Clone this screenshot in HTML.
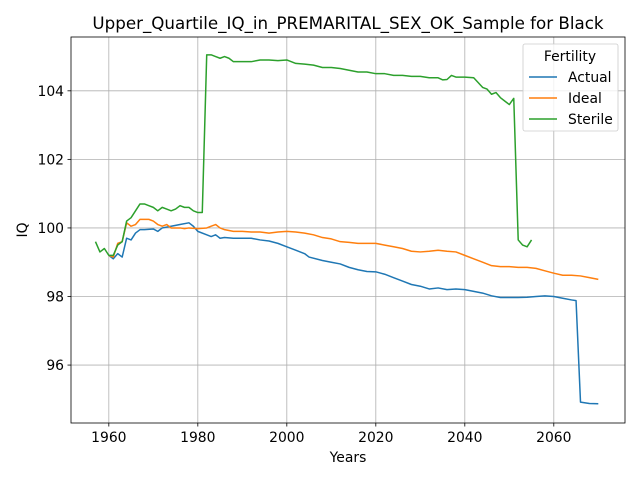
<!DOCTYPE html>
<html><head><meta charset="utf-8"><style>
body{margin:0;background:#fff;font-family:"Liberation Sans","DejaVu Sans",sans-serif}
</style></head><body>
<svg id="chart" width="640" height="480" xmlns="http://www.w3.org/2000/svg" font-family="DejaVu Sans, Liberation Sans, sans-serif"></svg>
<script>
const xTicks=[1960,1980,2000,2020,2040,2060];
const yTicks=[96,98,100,102,104];
const actualYears=[1960,1961,1962,1963,1964,1965,1966,1967,1968,1970,1971,1972,1974,1976,1978,1979,1980,1982,1983,1984,1985,1986,1988,1990,1992,1994,1996,1998,2000,2002,2004,2005,2008,2010,2012,2014,2016,2018,2020,2022,2024,2026,2028,2030,2032,2034,2036,2038,2040,2042,2044,2046,2048,2050,2052,2054,2056,2058,2060,2062,2064,2065,2066,2068,2070];
const actualValues=[99.2,99.1,99.25,99.15,99.7,99.65,99.85,99.95,99.95,99.97,99.9,100.0,100.05,100.1,100.15,100.05,99.9,99.8,99.75,99.8,99.7,99.72,99.7,99.7,99.7,99.65,99.62,99.55,99.45,99.35,99.25,99.15,99.05,99.0,98.95,98.85,98.78,98.73,98.72,98.65,98.55,98.45,98.35,98.3,98.22,98.25,98.2,98.22,98.2,98.15,98.1,98.02,97.97,97.97,97.97,97.98,98.0,98.02,98.0,97.95,97.9,97.88,94.92,94.88,94.87];
const idealYears=[1960,1961,1962,1963,1964,1965,1966,1967,1969,1970,1971,1972,1973,1974,1976,1977,1978,1980,1982,1983,1984,1985,1986,1988,1990,1992,1994,1996,1998,2000,2002,2004,2006,2008,2010,2012,2014,2016,2018,2020,2022,2024,2026,2028,2030,2032,2034,2036,2038,2040,2042,2044,2046,2048,2050,2052,2054,2056,2058,2060,2062,2064,2066,2068,2070];
const idealValues=[99.2,99.15,99.55,99.6,100.15,100.05,100.1,100.25,100.25,100.2,100.1,100.05,100.1,100.0,100.0,99.98,100.0,99.98,100.0,100.05,100.1,100.0,99.95,99.9,99.9,99.88,99.88,99.85,99.88,99.9,99.88,99.85,99.8,99.72,99.68,99.6,99.58,99.55,99.55,99.55,99.5,99.45,99.4,99.32,99.3,99.32,99.35,99.32,99.3,99.2,99.1,99.0,98.9,98.87,98.87,98.85,98.85,98.82,98.75,98.68,98.62,98.62,98.6,98.55,98.5];
const sterileYears=[1957,1958,1959,1960,1961,1962,1963,1964,1965,1966,1967,1968,1969,1970,1971,1972,1973,1974,1975,1976,1977,1978,1979,1980,1981,1982,1983,1984,1985,1986,1987,1988,1990,1992,1994,1996,1998,2000,2002,2004,2006,2008,2010,2012,2014,2016,2018,2020,2022,2024,2026,2028,2030,2032,2034,2035,2036,2037,2038,2040,2042,2044,2045,2046,2047,2048,2049,2050,2051,2052,2053,2054,2055];
const sterileValues=[99.6,99.3,99.4,99.2,99.2,99.5,99.6,100.2,100.3,100.5,100.7,100.7,100.65,100.6,100.5,100.6,100.55,100.5,100.55,100.65,100.6,100.6,100.5,100.45,100.45,105.05,105.05,105.0,104.95,105.0,104.95,104.85,104.85,104.85,104.9,104.9,104.88,104.9,104.8,104.78,104.75,104.68,104.68,104.65,104.6,104.55,104.55,104.5,104.5,104.45,104.45,104.42,104.42,104.38,104.38,104.32,104.33,104.45,104.4,104.4,104.38,104.1,104.05,103.9,103.95,103.8,103.7,103.6,103.78,99.65,99.5,99.45,99.65];
const L=71,R=625,T=37,B=423,X0=1951.5,X1=2076,Y0=94.31,Y1=105.57;
const xs=v=>L+(v-X0)/(X1-X0)*(R-L);
const ys=v=>B-(v-Y0)/(Y1-Y0)*(B-T);
const svg=document.getElementById('chart');
const NS='http://www.w3.org/2000/svg';
function mk(tag,attrs,parent){const e=document.createElementNS(NS,tag);for(const k in attrs)e.setAttribute(k,attrs[k]);(parent||svg).appendChild(e);return e;}
xTicks.forEach(t=>{
 const g=mk('line',{x1:xs(t),x2:xs(t),y1:T,y2:B,stroke:'#b0b0b0','stroke-width':0.8});
 
 
 mk('line',{x1:xs(t),x2:xs(t),y1:B,y2:B+3.5,stroke:'#000','stroke-width':0.8});
 const tx=mk('text',{x:xs(t),y:B+19,'font-size':13.9,'text-anchor':'middle'});tx.textContent=t;
 
 
});
yTicks.forEach(t=>{
 const g=mk('line',{x1:L,x2:R,y1:ys(t),y2:ys(t),stroke:'#b0b0b0','stroke-width':0.8});
 
 
 mk('line',{x1:L-3.5,x2:L,y1:ys(t),y2:ys(t),stroke:'#000','stroke-width':0.8});
 const tx=mk('text',{x:L-7,y:ys(t)+5,'font-size':13.9,'text-anchor':'end'});tx.textContent=t;
 
 
});
function series(yrs,vals,color,name){
 const p=mk('polyline',{points:yrs.map((y,i)=>xs(y)+','+ys(vals[i])).join(' '),fill:'none',stroke:color,'stroke-width':1.5,'stroke-linejoin':'round'});
 
 
}
series(actualYears,actualValues,'#1f77b4','actual-line');
series(idealYears,idealValues,'#ff7f0e','ideal-line');
series(sterileYears,sterileValues,'#2ca02c','sterile-line');
const fr=mk('rect',{x:L,y:T,width:R-L,height:B-T,fill:'none',stroke:'#000','stroke-width':0.8});


const title=mk('text',{x:(L+R)/2,y:29,'font-size':16.7,'text-anchor':'middle'});title.textContent='Upper_Quartile_IQ_in_PREMARITAL_SEX_OK_Sample for Black';


const xl=mk('text',{x:(L+R)/2,y:462,'font-size':13.9,'text-anchor':'middle'});xl.textContent='Years';


const yl=mk('text',{x:27,y:230,'font-size':13.9,'text-anchor':'middle',transform:'rotate(-90 27 230)'});yl.textContent='IQ';


const lg=mk('g',{});


mk('rect',{x:523,y:44,width:95,height:87,rx:2,fill:'#fff','fill-opacity':0.8,stroke:'#ccc','stroke-width':0.8},lg);
const lt=mk('text',{x:570,y:61,'font-size':13.9,'text-anchor':'middle'},lg);lt.textContent='Fertility';
[['Actual','#1f77b4'],['Ideal','#ff7f0e'],['Sterile','#2ca02c']].forEach((e,i)=>{
 const y=77+i*21;
 mk('line',{x1:529,x2:557,y1:y,y2:y,stroke:e[1],'stroke-width':1.5},lg);
 const t=mk('text',{x:568,y:y+5,'font-size':13.9},lg);t.textContent=e[0];
 
 
});
</script>
</body></html>
